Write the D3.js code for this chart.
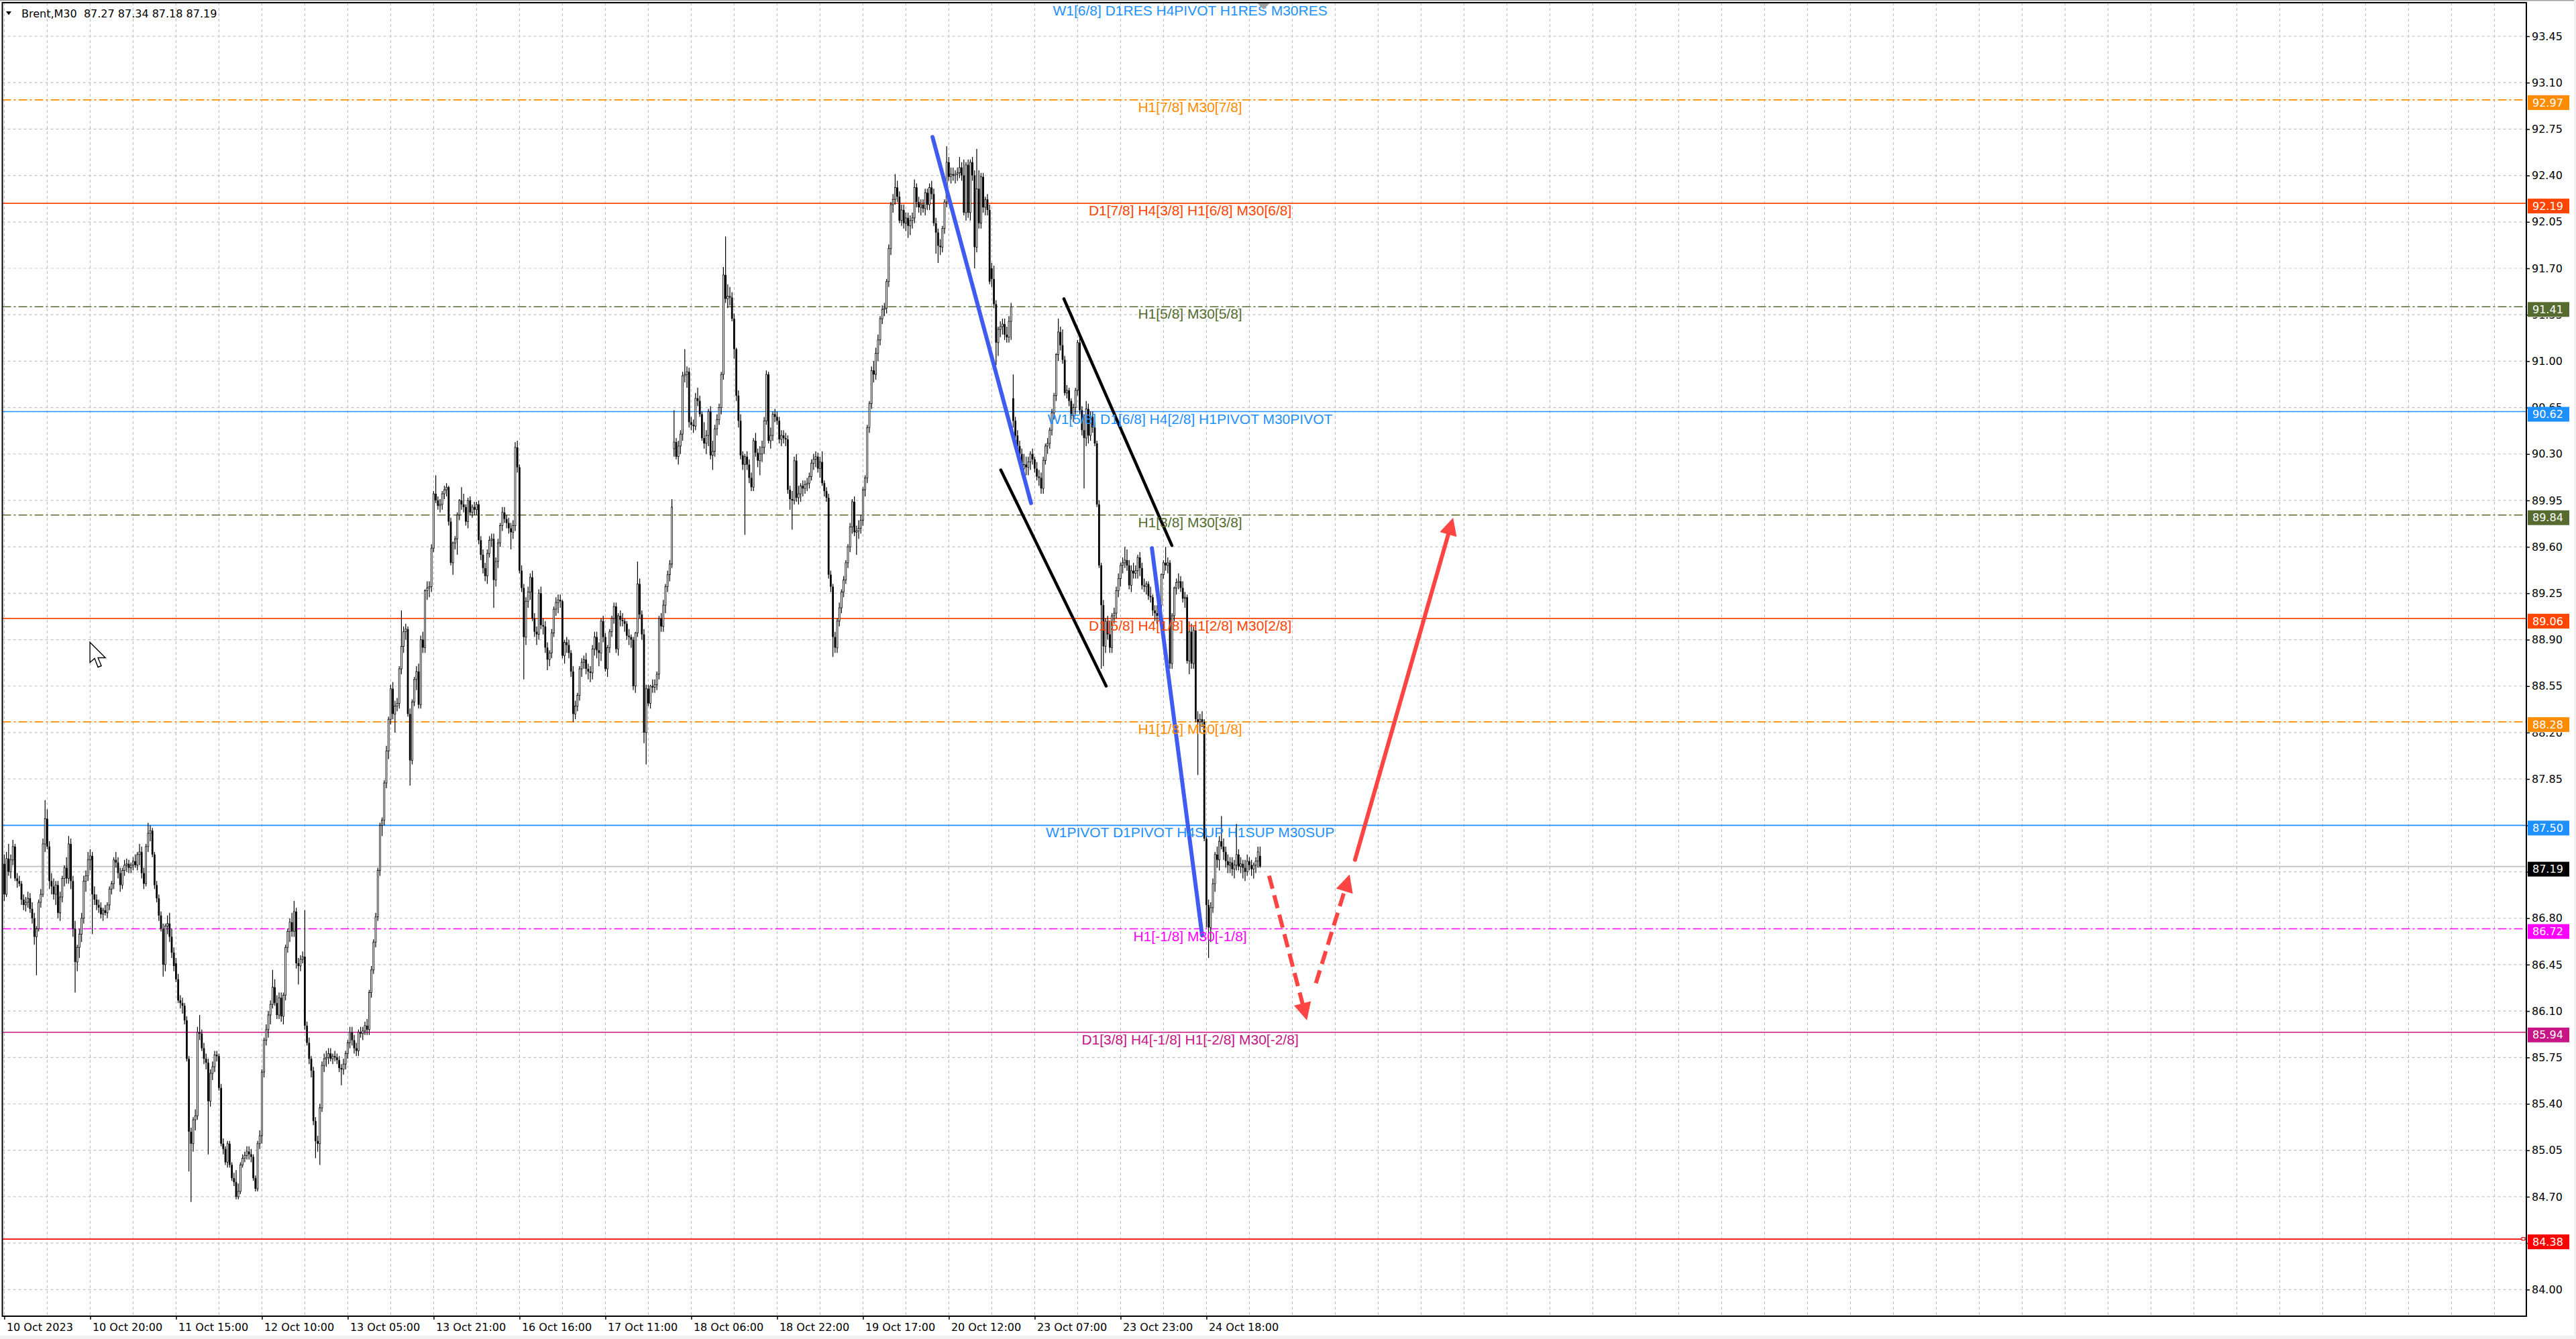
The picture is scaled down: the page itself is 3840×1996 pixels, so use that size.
<!DOCTYPE html>
<html>
<head>
<meta charset="utf-8">
<script src="https://cdn.jsdelivr.net/npm/d3@7"></script>
<style>
  html, body { margin: 0; padding: 0; background: #f0f0f0; }
  svg { display: block; }
  .axis text { font-family: "DejaVu Sans", Verdana, sans-serif; font-size: 16px; fill: #000; }
  .level-label { font-family: "Liberation Sans", Arial, sans-serif; font-size: 21px; }
  .price-box text { font-family: "DejaVu Sans", Verdana, sans-serif; font-size: 16px; fill: #fff; }
</style>
</head>
<body>
<svg id="chart"></svg>
<script>
// Brent, M30 - one tuple per bar: [open, high, low, close]
const candles = [
  // 10 Oct 2023
  [87.21,87.28,86.93,86.98],[86.98,87.30,86.96,87.25],[87.25,87.36,87.12,87.15],[87.15,87.28,87.10,87.24],[87.24,87.39,87.20,87.34],[87.34,87.36,87.08,87.10],[87.10,87.14,87.03,87.08],[87.08,87.12,87.04,87.06],[87.06,87.08,86.90,86.94],[86.94,86.98,86.86,86.90],
  [86.90,86.96,86.85,86.92],[86.92,87.00,86.88,86.95],[86.95,86.99,86.84,86.87],[86.87,86.92,86.76,86.80],[86.80,86.84,86.60,86.66],[86.66,86.74,86.37,86.72],[86.72,86.94,86.70,86.92],[86.92,87.02,86.88,86.98],[86.98,87.40,86.96,87.36],[87.36,87.69,87.30,87.55],
  [87.55,87.62,87.32,87.34],[87.34,87.38,87.02,87.08],[87.08,87.14,86.98,87.04],[87.04,87.10,86.94,86.98],[86.98,87.08,86.90,87.05],[87.05,87.08,86.80,86.84],[86.84,87.00,86.78,86.96],[86.96,87.12,86.92,87.10],[87.10,87.20,87.04,87.18],[87.18,87.26,87.06,87.10],
  [87.10,87.42,87.06,87.36],[87.36,87.40,87.02,87.08],[87.08,87.12,86.66,86.72],[86.72,86.78,86.24,86.47],[86.47,86.60,86.40,86.58],[86.58,86.72,86.50,86.68],[86.68,86.84,86.62,86.80],[86.80,87.12,86.76,87.08],[87.08,87.16,87.00,87.12],[87.12,87.30,87.08,87.24],
  // 10 Oct 20:00
  [87.24,87.32,87.16,87.27],[87.27,87.30,86.68,86.98],[86.98,87.04,86.90,86.94],[86.94,86.98,86.86,86.90],[86.90,86.94,86.84,86.88],[86.88,86.92,86.80,86.83],[86.83,86.88,86.78,86.86],[86.86,86.90,86.82,86.84],[86.84,86.92,86.80,86.90],[86.90,87.04,86.86,87.02],
  [87.02,87.08,86.98,87.06],[87.06,87.26,87.02,87.24],[87.24,87.30,87.18,87.22],[87.22,87.26,87.10,87.14],[87.14,87.18,87.00,87.05],[87.05,87.18,87.02,87.16],[87.16,87.24,87.12,87.20],[87.20,87.25,87.15,87.21],[87.21,87.24,87.14,87.18],[87.18,87.22,87.14,87.20],
  [87.20,87.26,87.16,87.23],[87.23,87.28,87.18,87.20],[87.20,87.30,87.16,87.28],[87.28,87.36,87.20,87.30],[87.30,87.34,87.10,87.14],[87.14,87.18,87.02,87.06],[87.06,87.36,87.04,87.34],[87.34,87.52,87.30,87.44],[87.44,87.50,87.38,87.46],[87.46,87.48,87.26,87.28],
  [87.28,87.30,87.02,87.05],[87.05,87.08,86.92,86.95],[86.95,86.98,86.78,86.82],[86.82,86.85,86.70,86.72],[86.72,86.76,86.36,86.45],[86.45,86.76,86.40,86.74],[86.74,86.82,86.68,86.76],[86.76,86.84,86.62,86.66],[86.66,86.72,86.50,86.54],[86.54,86.58,86.40,86.44],
  // 11 Oct 15:00
  [86.46,86.50,86.32,86.34],[86.34,86.38,86.16,86.18],[86.18,86.22,86.12,86.16],[86.16,86.20,86.08,86.14],[86.14,86.16,86.00,86.03],[86.03,86.06,85.72,85.74],[85.74,85.76,84.89,85.19],[85.19,85.22,84.66,85.10],[85.10,85.30,85.04,85.28],[85.28,85.36,85.20,85.31],
  [85.31,85.98,85.28,85.94],[85.94,86.07,85.88,85.93],[85.93,85.96,85.80,85.82],[85.82,85.86,85.70,85.74],[85.74,85.78,85.66,85.71],[85.71,85.74,85.02,85.42],[85.42,85.66,85.38,85.63],[85.63,85.72,85.58,85.68],[85.68,85.80,85.64,85.77],[85.77,85.80,85.72,85.76],
  [85.76,85.78,85.50,85.52],[85.52,85.55,85.08,85.10],[85.10,85.14,85.02,85.06],[85.06,85.08,84.94,84.96],[84.96,85.12,84.92,85.10],[85.10,85.12,84.92,84.94],[84.94,84.96,84.82,84.84],[84.84,84.88,84.78,84.81],[84.81,84.90,84.68,84.70],[84.70,84.80,84.68,84.74],
  [84.74,84.96,84.72,84.94],[84.94,85.02,84.92,84.99],[84.99,85.04,84.96,85.01],[85.01,85.08,84.98,85.04],[85.04,85.08,84.98,85.02],[85.02,85.06,84.96,85.00],[85.00,85.02,84.82,84.84],[84.84,84.86,84.74,84.76],[84.76,85.12,84.74,85.10],[85.10,85.20,85.06,85.16],
  // 12 Oct 10:00
  [85.16,85.66,85.10,85.64],[85.64,85.90,85.60,85.88],[85.88,86.00,85.84,85.96],[85.96,86.10,85.90,86.07],[86.07,86.18,86.00,86.15],[86.15,86.41,86.12,86.28],[86.28,86.34,86.14,86.16],[86.16,86.22,86.04,86.07],[86.07,86.24,86.04,86.20],[86.20,86.24,86.02,86.06],
  [86.06,86.24,86.00,86.22],[86.22,86.60,86.18,86.58],[86.58,86.72,86.54,86.70],[86.70,86.80,86.62,86.77],[86.77,86.84,86.66,86.70],[86.70,86.93,86.66,86.85],[86.85,86.88,86.42,86.46],[86.46,86.50,86.30,86.44],[86.44,86.52,86.40,86.49],[86.49,86.55,86.46,86.51],
  [86.51,86.86,85.96,85.99],[85.99,86.02,85.84,85.86],[85.86,85.90,85.70,85.74],[85.74,85.76,85.60,85.65],[85.65,85.68,85.24,85.27],[85.27,85.30,84.99,85.12],[85.12,85.16,85.04,85.10],[85.10,85.40,84.94,85.37],[85.37,85.72,85.34,85.69],[85.69,85.78,85.64,85.74],
  [85.74,85.80,85.68,85.75],[85.75,85.82,85.70,85.78],[85.78,85.82,85.72,85.74],[85.74,85.78,85.70,85.76],[85.76,85.80,85.72,85.75],[85.75,85.78,85.70,85.73],[85.73,85.76,85.64,85.67],[85.67,85.70,85.54,85.66],[85.66,85.74,85.62,85.70],[85.70,85.80,85.66,85.78],
  // 13 Oct 05:00
  [85.78,85.88,85.74,85.86],[85.86,85.98,85.82,85.94],[85.94,85.98,85.84,85.88],[85.88,85.92,85.78,85.82],[85.82,85.86,85.76,85.80],[85.80,85.96,85.76,85.94],[85.94,85.98,85.90,85.93],[85.93,85.98,85.88,85.95],[85.95,86.02,85.92,85.99],[85.99,86.04,85.92,85.96],
  [85.96,86.26,85.92,86.24],[86.24,86.44,86.20,86.41],[86.41,86.64,86.38,86.62],[86.62,86.84,86.58,86.81],[86.81,87.18,86.78,87.16],[87.16,87.52,87.12,87.50],[87.50,87.56,87.42,87.54],[87.54,87.84,87.50,87.82],[87.82,88.10,87.78,88.06],[88.06,88.32,88.00,88.30],
  [88.30,88.56,88.26,88.53],[88.53,88.58,88.30,88.34],[88.34,88.44,88.20,88.40],[88.40,88.46,88.36,88.42],[88.42,88.70,88.38,88.68],[88.68,89.12,88.64,88.85],[88.85,89.00,88.80,88.96],[88.96,89.02,88.90,88.98],[88.98,89.00,88.32,88.34],[88.34,88.38,87.80,87.99],
  [87.99,88.45,87.96,88.43],[88.43,88.62,88.40,88.60],[88.60,88.70,88.52,88.66],[88.66,88.72,88.38,88.41],[88.41,88.93,88.38,88.90],[88.90,88.96,88.80,88.84],[88.84,89.28,88.80,89.27],[89.27,89.34,89.20,89.29],[89.29,89.34,89.22,89.30],[89.30,89.62,89.26,89.59],
  // 13 Oct 21:00
  [89.59,90.02,89.56,90.00],[90.00,90.14,89.93,89.95],[89.95,89.98,89.88,89.91],[89.91,89.96,89.86,89.92],[89.92,90.02,89.88,90.00],[90.00,90.06,89.96,90.03],[90.03,90.08,89.98,90.05],[90.05,90.06,89.76,89.79],[89.79,89.82,89.46,89.48],[89.48,89.64,89.39,89.63],
  [89.63,89.68,89.58,89.66],[89.66,89.86,89.54,89.84],[89.84,89.96,89.80,89.95],[89.95,90.05,89.88,89.92],[89.92,90.00,89.86,89.90],[89.90,89.92,89.76,89.79],[89.79,89.97,89.74,89.95],[89.95,89.98,89.84,89.86],[89.86,89.92,89.82,89.90],[89.90,89.94,89.84,89.88],
  [89.88,89.94,89.84,89.92],[89.92,89.95,89.62,89.65],[89.65,89.68,89.50,89.54],[89.54,89.58,89.40,89.44],[89.44,89.48,89.34,89.38],[89.38,89.58,89.32,89.55],[89.55,89.68,89.52,89.65],[89.65,89.70,89.60,89.66],[89.66,89.70,89.14,89.35],[89.35,89.52,89.30,89.49],
  [89.49,89.66,89.44,89.63],[89.63,89.78,89.60,89.76],[89.76,89.90,89.72,89.86],[89.86,89.90,89.78,89.81],[89.81,89.84,89.74,89.78],[89.78,89.82,89.70,89.74],[89.74,89.78,89.58,89.71],[89.71,89.80,89.66,89.76],[89.76,90.39,89.72,90.35],[90.35,90.40,90.16,90.20],
  // 16 Oct 16:00
  [90.20,90.22,89.40,89.42],[89.42,89.46,89.26,89.29],[89.29,89.32,88.60,88.92],[88.92,89.22,88.86,89.19],[89.19,89.30,89.14,89.26],[89.26,89.40,89.20,89.37],[89.37,89.42,89.04,89.06],[89.06,89.10,88.92,88.96],[88.96,89.00,88.86,88.94],[88.94,89.28,88.90,89.25],
  [89.25,89.30,88.98,89.01],[89.01,89.06,88.94,89.00],[89.00,89.04,88.80,88.84],[88.84,88.88,88.67,88.75],[88.75,88.82,88.70,88.80],[88.80,88.98,88.76,88.95],[88.95,89.15,88.92,89.13],[89.13,89.22,89.08,89.18],[89.18,89.24,89.10,89.20],[89.20,89.24,89.14,89.19],
  [89.19,89.20,88.76,88.78],[88.78,88.90,88.72,88.88],[88.88,88.92,88.80,88.86],[88.86,88.90,88.76,88.80],[88.80,88.82,88.62,88.66],[88.66,88.70,88.28,88.34],[88.34,88.44,88.30,88.40],[88.40,88.50,88.36,88.48],[88.48,88.70,88.44,88.68],[88.68,88.76,88.62,88.73],
  [88.73,88.78,88.68,88.75],[88.75,88.80,88.64,88.68],[88.68,88.72,88.60,88.66],[88.66,88.70,88.58,88.65],[88.65,88.86,88.60,88.83],[88.83,88.96,88.78,88.92],[88.92,88.96,88.76,88.82],[88.82,88.88,88.70,88.80],[88.80,89.06,88.74,89.04],[89.04,89.08,88.88,88.92],
  // 17 Oct 11:00
  [88.92,88.95,88.66,88.68],[88.68,88.86,88.62,88.84],[88.84,88.98,88.80,88.96],[88.96,89.08,88.92,89.06],[89.06,89.18,89.02,89.15],[89.15,89.18,88.80,88.83],[88.83,89.10,88.78,89.08],[89.08,89.12,89.00,89.05],[89.05,89.10,89.00,89.04],[89.04,89.06,88.96,89.02],
  [89.02,89.04,88.90,88.93],[88.93,88.98,88.86,88.92],[88.92,88.94,88.84,88.90],[88.90,88.92,88.52,88.55],[88.55,88.96,88.50,88.95],[88.95,89.49,88.92,89.32],[89.32,89.36,89.06,89.09],[89.09,89.12,88.90,88.94],[88.94,88.98,88.12,88.20],[88.20,88.56,87.96,88.53],
  [88.53,88.56,88.40,88.42],[88.42,88.56,88.38,88.55],[88.55,88.60,88.50,88.54],[88.54,88.60,88.50,88.56],[88.56,88.66,88.52,88.64],[88.64,89.08,88.60,89.06],[89.06,89.10,88.96,89.00],[89.00,89.20,88.96,89.16],[89.16,89.32,89.10,89.30],[89.30,89.42,89.26,89.39],
  [89.39,89.50,89.34,89.47],[89.47,89.96,89.44,89.90],[90.34,90.63,90.28,90.39],[90.39,90.42,90.26,90.28],[90.28,90.40,90.22,90.36],[90.36,90.48,90.30,90.45],[90.45,90.92,90.40,90.89],[90.89,91.09,90.84,90.90],[90.90,90.96,90.80,90.92],[90.92,90.95,90.50,90.54],
  // 18 Oct 06:00
  [90.54,90.58,90.48,90.52],[90.52,90.56,90.46,90.51],[90.51,90.76,90.48,90.72],[90.72,90.80,90.66,90.70],[90.70,90.74,90.58,90.60],[90.60,90.62,90.40,90.42],[90.42,90.54,90.34,90.38],[90.38,90.48,90.30,90.44],[90.44,90.64,90.36,90.62],[90.62,90.66,90.26,90.29],
  [90.29,90.40,90.18,90.32],[90.32,90.52,90.28,90.49],[90.49,90.60,90.44,90.56],[90.56,90.68,90.52,90.65],[90.65,90.92,90.60,90.90],[90.90,91.71,90.86,91.65],[91.65,91.94,91.44,91.47],[91.47,91.58,91.40,91.49],[91.49,91.56,91.42,91.48],[91.48,91.52,91.30,91.32],
  [91.32,91.36,91.02,91.09],[91.09,91.10,90.70,90.74],[90.74,90.78,90.50,90.55],[90.55,90.60,90.26,90.29],[90.29,90.32,90.18,90.22],[90.22,90.30,89.69,90.28],[90.28,90.32,90.18,90.22],[90.22,90.26,90.08,90.12],[90.12,90.16,90.02,90.05],[90.05,90.42,90.02,90.40],
  [90.40,90.46,90.28,90.31],[90.31,90.34,90.20,90.25],[90.25,90.36,90.14,90.30],[90.30,90.40,90.24,90.35],[90.35,90.58,90.30,90.55],[90.55,90.93,90.52,90.90],[90.90,90.92,90.38,90.40],[90.40,90.50,90.34,90.44],[90.44,90.62,90.40,90.60],[90.60,90.64,90.54,90.58],
  // 18 Oct 22:00
  [90.58,90.62,90.52,90.55],[90.55,90.58,90.38,90.41],[90.41,90.48,90.36,90.44],[90.44,90.48,90.38,90.42],[90.42,90.46,90.36,90.41],[90.41,90.44,90.00,90.03],[90.03,90.06,89.88,89.96],[89.96,90.02,89.73,89.95],[89.95,90.28,89.92,90.25],[90.25,90.30,89.94,89.97],
  [89.97,90.06,89.92,90.00],[90.00,90.08,89.94,90.06],[90.06,90.10,89.98,90.04],[90.04,90.10,90.00,90.07],[90.07,90.12,90.02,90.08],[90.08,90.16,90.04,90.13],[90.13,90.26,90.10,90.23],[90.23,90.30,90.18,90.26],[90.26,90.32,90.20,90.28],[90.28,90.31,90.16,90.19],
  [90.19,90.28,90.12,90.24],[90.24,90.32,90.06,90.08],[90.08,90.10,89.98,90.02],[90.02,90.05,89.94,89.97],[89.97,90.00,89.36,89.39],[89.39,89.42,89.26,89.30],[89.30,89.32,88.77,88.92],[88.92,88.96,88.80,88.84],[88.84,89.06,88.80,89.04],[89.04,89.18,89.00,89.14],
  [89.14,89.28,89.10,89.26],[89.26,89.38,89.22,89.35],[89.35,89.50,89.32,89.48],[89.48,89.62,89.44,89.60],[89.60,89.78,89.56,89.75],[89.75,89.96,89.70,89.94],[89.94,89.98,89.68,89.71],[89.71,89.76,89.54,89.72],[89.72,89.80,89.66,89.74],[89.74,89.84,89.70,89.80],
  // 19 Oct 17:00
  [89.80,90.05,89.76,90.03],[90.03,90.14,89.98,90.12],[90.12,90.52,90.08,90.50],[90.50,90.70,90.46,90.68],[90.68,90.96,90.64,90.93],[90.93,91.00,90.84,90.90],[90.90,91.10,90.86,91.06],[91.06,91.20,91.00,91.16],[91.16,91.34,91.12,91.32],[91.32,91.42,91.28,91.39],
  [91.39,91.44,91.34,91.40],[91.40,91.62,91.36,91.60],[91.60,91.88,91.56,91.85],[91.85,92.20,91.80,92.18],[92.18,92.26,92.12,92.22],[92.22,92.41,92.18,92.31],[92.31,92.36,92.20,92.24],[92.24,92.28,92.04,92.06],[92.06,92.18,92.02,92.14],[92.14,92.18,92.00,92.04],
  [92.04,92.12,91.98,92.08],[92.08,92.12,91.93,92.02],[92.02,92.10,91.95,92.06],[92.06,92.12,92.00,92.08],[92.08,92.37,92.04,92.31],[92.31,92.34,92.16,92.20],[92.20,92.24,92.12,92.16],[92.16,92.22,92.10,92.18],[92.18,92.22,92.12,92.15],[92.15,92.30,92.10,92.27],
  [92.27,92.30,92.14,92.18],[92.18,92.34,92.14,92.31],[92.31,92.36,92.22,92.26],[92.26,92.30,92.02,92.04],[92.04,92.08,91.81,91.97],[91.97,92.00,91.74,91.87],[91.87,91.92,91.80,91.86],[91.86,92.02,91.82,92.00],[92.00,92.22,91.96,92.20],[92.20,92.62,92.16,92.50],
  // 20 Oct 12:00
  [92.50,92.54,92.36,92.39],[92.39,92.46,92.34,92.41],[92.41,92.46,92.36,92.40],[92.40,92.44,92.34,92.41],[92.41,92.46,92.36,92.42],[92.42,92.54,92.38,92.46],[92.46,92.50,92.36,92.40],[92.40,92.52,92.10,92.12],[92.12,92.50,92.06,92.48],[92.48,92.52,92.08,92.12],
  [92.12,92.52,92.06,92.50],[92.50,92.54,92.36,92.40],[92.40,92.44,91.70,91.86],[91.86,92.60,91.82,92.30],[92.30,92.44,92.00,92.04],[92.04,92.42,92.00,92.39],[92.39,92.42,92.12,92.16],[92.16,92.24,92.10,92.22],[92.22,92.26,92.10,92.14],[92.14,92.18,91.58,91.60],
  [91.70,91.74,91.56,91.62],[91.62,91.72,91.40,91.43],[91.43,91.46,90.97,91.14],[91.14,91.26,91.04,91.24],[91.24,91.30,91.18,91.26],[91.26,91.32,91.20,91.28],[91.28,91.32,91.16,91.20],[91.20,91.26,91.14,91.18],[91.18,91.34,91.14,91.30],[91.30,91.44,91.16,91.41],
  [90.72,90.90,90.50,90.55],[90.55,90.58,90.42,90.44],[90.44,90.48,90.32,90.36],[90.36,90.40,90.26,90.30],[90.30,90.34,90.14,90.19],[90.19,90.30,90.12,90.22],[90.22,90.28,90.14,90.20],[90.20,90.28,90.14,90.24],[90.24,90.32,90.18,90.30],[90.30,90.34,90.22,90.26],
  // 23 Oct 07:00
  [90.26,90.28,90.16,90.19],[90.19,90.24,90.10,90.13],[90.13,90.18,90.06,90.12],[90.12,90.16,90.00,90.04],[90.04,90.28,90.00,90.25],[90.25,90.38,90.22,90.36],[90.36,90.42,90.30,90.38],[90.38,90.50,90.34,90.48],[90.48,90.64,90.44,90.61],[90.61,90.76,90.56,90.74],
  [90.74,91.06,90.70,91.05],[91.05,91.32,91.00,91.22],[91.22,91.26,91.08,91.12],[91.12,91.24,90.98,91.01],[91.01,91.04,90.74,90.76],[90.76,90.82,90.72,90.78],[90.78,90.80,90.66,90.70],[90.70,90.72,90.56,90.59],[90.59,90.68,90.54,90.65],[90.65,90.80,90.60,90.78],
  [90.78,91.16,90.74,91.14],[91.14,91.18,90.60,90.63],[90.63,90.66,90.44,90.48],[90.48,90.60,90.04,90.42],[90.42,90.70,90.36,90.64],[90.64,90.68,90.38,90.44],[90.44,90.62,90.40,90.58],[90.58,90.62,90.46,90.50],[90.50,90.54,90.36,90.38],[90.38,90.40,89.90,89.92],
  [89.92,89.95,89.44,89.46],[89.46,89.48,88.68,89.16],[89.16,89.20,88.70,88.85],[88.85,89.06,88.80,89.04],[89.04,89.08,88.90,88.94],[88.94,89.04,88.80,88.84],[88.84,89.10,88.80,89.08],[89.08,89.14,89.02,89.10],[89.10,89.30,89.06,89.27],[89.27,89.40,89.22,89.36],
  // 23 Oct 23:00
  [89.36,89.48,89.30,89.46],[89.46,89.52,89.40,89.48],[89.48,89.60,89.44,89.50],[89.50,89.58,89.42,89.46],[89.46,89.50,89.28,89.31],[89.31,89.46,89.26,89.42],[89.42,89.48,89.36,89.40],[89.40,89.46,89.36,89.42],[89.42,89.54,89.36,89.52],[89.52,89.56,89.38,89.44],
  [89.44,89.48,89.28,89.31],[89.31,89.36,89.26,89.30],[89.30,89.34,89.24,89.32],[89.32,89.34,89.20,89.23],[89.23,89.30,89.18,89.22],[89.22,89.24,89.08,89.12],[89.12,89.16,89.04,89.10],[89.10,89.16,89.02,89.08],[89.08,89.20,89.04,89.16],[89.16,89.40,89.12,89.39],
  [89.39,89.50,89.36,89.48],[89.48,89.60,89.42,89.46],[89.46,89.52,89.40,89.48],[89.48,89.50,88.68,88.72],[88.72,89.10,88.68,89.08],[89.08,89.30,89.04,89.29],[89.29,89.36,89.24,89.33],[89.33,89.40,89.28,89.34],[89.34,89.38,89.26,89.29],[89.29,89.34,89.18,89.21],
  [89.21,89.26,89.14,89.22],[89.22,89.24,88.72,88.74],[88.74,88.98,88.64,88.96],[88.96,89.02,88.68,88.72],[88.72,89.00,88.68,88.97],[88.97,88.99,88.28,88.30],[88.30,88.36,87.88,88.28],[88.28,88.34,88.20,88.30],[88.30,88.36,88.24,88.28],[88.28,88.30,87.38,87.40],
  // 24 Oct 18:00
  [87.40,87.42,86.73,86.90],[86.90,86.94,86.50,86.73],[86.73,86.92,86.62,86.88],[86.88,87.10,86.84,87.06],[87.06,87.30,87.00,87.28],[87.28,87.34,87.18,87.24],[87.24,87.42,87.16,87.38],[87.38,87.57,87.32,87.34],[87.34,87.40,87.24,87.30],[87.30,87.34,87.18,87.23],
  [87.23,87.28,87.14,87.20],[87.20,87.26,87.14,87.22],[87.22,87.26,87.12,87.17],[87.17,87.24,87.10,87.20],[87.20,87.51,87.16,87.28],[87.28,87.32,87.16,87.19],[87.19,87.26,87.14,87.21],[87.21,87.24,87.10,87.18],[87.18,87.24,87.08,87.15],[87.15,87.28,87.12,87.23],
  [87.23,87.26,87.16,87.20],[87.20,87.24,87.12,87.17],[87.17,87.22,87.10,87.20],[87.20,87.26,87.14,87.23],[87.23,87.34,87.18,87.30],[87.27,87.34,87.18,87.19]
];

const symbolName = 'Brent,M30';

// time axis: a label every 40 bars
const timeLabelBars = [0, 40, 80, 120, 160, 200, 240, 280, 320, 360, 400, 440, 480, 520, 560];
const timeLabels = ['10 Oct 2023', '10 Oct 20:00', '11 Oct 15:00', '12 Oct 10:00', '13 Oct 05:00',
  '13 Oct 21:00', '16 Oct 16:00', '17 Oct 11:00', '18 Oct 06:00', '18 Oct 22:00',
  '19 Oct 17:00', '20 Oct 12:00', '23 Oct 07:00', '23 Oct 23:00', '24 Oct 18:00'];

const priceTicks = [84.00, 84.35, 84.70, 85.05, 85.40, 85.75, 86.10, 86.45, 86.80, 87.15,
  87.50, 87.85, 88.20, 88.55, 88.90, 89.25, 89.60, 89.95, 90.30, 90.65,
  91.00, 91.35, 91.70, 92.05, 92.40, 92.75, 93.10, 93.45];

// Murrey / pivot levels
const levelPrices = [93.74, 92.97, 92.19, 91.41, 90.62, 89.84, 89.06, 88.28, 87.50, 86.72, 85.94, 84.38];
const levelColors = ['#1e90ff', '#ff8c00', '#ff4500', '#556b2f', '#1e90ff', '#556b2f', '#ff4500', '#ff8c00', '#1e90ff', '#ff00ff', '#c71585', '#ff0000'];
const levelDashed = [false, true, false, true, false, true, false, true, false, true, false, false];
const levelTexts = [
  'W1[6/8] D1RES H4PIVOT H1RES M30RES',
  'H1[7/8] M30[7/8]',
  'D1[7/8] H4[3/8] H1[6/8] M30[6/8]',
  'H1[5/8] M30[5/8]',
  'W1[5/8] D1[6/8] H4[2/8] H1PIVOT M30PIVOT',
  'H1[3/8] M30[3/8]',
  'D1[5/8] H4[1/8] H1[2/8] M30[2/8]',
  'H1[1/8] M30[1/8]',
  'W1PIVOT D1PIVOT H4SUP H1SUP M30SUP',
  'H1[-1/8] M30[-1/8]',
  'D1[3/8] H4[-1/8] H1[-2/8] M30[-2/8]',
  ''
];
const levelLabelBar = 552.4;

// hand drawn analysis lines, as [bar, price]
const trendLines = [
  {a: [432.4, 92.69], b: [478.3, 89.93], kind: 'blue'},
  {a: [534.6, 89.59], b: [558.0, 86.67], kind: 'blue'},
  {a: [464.2, 90.18], b: [513.3, 88.55], kind: 'black'},
  {a: [493.6, 91.47], b: [543.9, 89.61], kind: 'black'},
  {a: [589.2, 87.12], b: [606.8, 86.03], kind: 'redDash'},
  {a: [611.0, 86.31], b: [626.7, 87.13], kind: 'redDash'},
  {a: [629.2, 87.24], b: [674.9, 89.82], kind: 'red'}
];

const cursorAt = [39.9, 88.88];

const lineStyle = {
  blue:    {color: '#3f5bf0', width: 6, dash: null, arrow: false},
  black:   {color: '#000000', width: 4.5, dash: null, arrow: false},
  redDash: {color: '#ff4444', width: 6, dash: '20,10', arrow: true},
  red:     {color: '#ff4444', width: 6, dash: null, arrow: true}
};

const W = 3840, H = 1996;
const plot = {left: 3.5, top: 4, right: 3766, bottom: 1962};

const svg = d3.select('#chart').attr('width', W).attr('height', H);

svg.append('rect').attr('width', 3837).attr('height', 1991).attr('fill', '#fff');
svg.append('line').attr('x1', 0).attr('x2', 3837).attr('y1', 0.8).attr('y2', 0.8)
  .attr('stroke', '#a0a0a0').attr('stroke-width', 1.6);

const x = d3.scaleLinear().domain([0, 1175]).range([6.4, 3766.4]);
const y = d3.scaleLinear().domain([84.00, 93.45]).range([1922.3, 54]);

const defs = svg.append('defs');
defs.append('clipPath').attr('id', 'plotClip')
  .append('rect')
  .attr('x', plot.left).attr('y', plot.top)
  .attr('width', plot.right - plot.left).attr('height', plot.bottom - plot.top);

const plotG = svg.append('g').attr('clip-path', 'url(#plotClip)');

// grid
plotG.append('g').selectAll('line')
  .data(d3.range(0, 1175, 20))
  .join('line')
  .attr('x1', d => x(d)).attr('x2', d => x(d))
  .attr('y1', plot.top).attr('y2', plot.bottom)
  .attr('stroke', '#c0c0c0').attr('stroke-width', 1.2).attr('stroke-dasharray', '4,4');

plotG.append('g').selectAll('line')
  .data(priceTicks)
  .join('line')
  .attr('x1', plot.left).attr('x2', plot.right)
  .attr('y1', d => y(d)).attr('y2', d => y(d))
  .attr('stroke', '#c0c0c0').attr('stroke-width', 1.2).attr('stroke-dasharray', '4,4');

// levels
const levels = levelPrices.map((p, i) => ({
  price: p, color: levelColors[i], dashed: levelDashed[i], text: levelTexts[i]
}));

plotG.append('g').selectAll('line')
  .data(levels)
  .join('line')
  .attr('x1', plot.left).attr('x2', plot.right)
  .attr('y1', d => y(d.price)).attr('y2', d => y(d.price))
  .attr('stroke', d => d.color)
  .attr('stroke-width', 1.6)
  .attr('stroke-dasharray', d => d.dashed ? '13,4,3,4' : null);

// current price line
const last = candles[candles.length - 1];
plotG.append('line')
  .attr('x1', plot.left).attr('x2', plot.right)
  .attr('y1', y(last[3])).attr('y2', y(last[3]))
  .attr('stroke', '#c0c0c0').attr('stroke-width', 1.6);

// level captions sit just under their line (kept inside the frame)
svg.append('g').selectAll('text')
  .data(levels.filter(d => d.text))
  .join('text')
  .attr('class', 'level-label')
  .attr('x', x(levelLabelBar))
  .attr('y', d => Math.max(y(d.price) + 18, plot.top + 19))
  .attr('text-anchor', 'middle')
  .attr('fill', d => d.color)
  .text(d => d.text);

// candles
const bars = plotG.append('g').selectAll('g')
  .data(candles)
  .join('g');

bars.append('line')
  .attr('x1', (d, i) => x(i)).attr('x2', (d, i) => x(i))
  .attr('y1', d => y(d[1])).attr('y2', d => y(d[2]))
  .attr('stroke', '#000').attr('stroke-width', 1.2);

bars.append('rect')
  .attr('x', (d, i) => x(i) - (d[3] >= d[0] ? 1.0 : 1.4))
  .attr('width', d => d[3] >= d[0] ? 2.0 : 2.8)
  .attr('y', d => y(Math.max(d[0], d[3])))
  .attr('height', d => Math.max(1, Math.abs(y(d[0]) - y(d[3]))))
  .attr('fill', d => d[3] >= d[0] ? '#fff' : '#000')
  .attr('stroke', d => d[3] >= d[0] ? '#000' : 'none')
  .attr('stroke-width', 0.8);

// analysis lines
const tl = plotG.append('g');
trendLines.forEach(t => {
  const s = lineStyle[t.kind];
  const x1 = x(t.a[0]), y1 = y(t.a[1]);
  let x2 = x(t.b[0]), y2 = y(t.b[1]);
  const ang = Math.atan2(y2 - y1, x2 - x1);
  if (s.arrow) {
    const len = 26, half = 13;
    const bx = x2 - len * Math.cos(ang), by = y2 - len * Math.sin(ang);
    tl.append('path')
      .attr('d', `M${x2},${y2}L${bx + half * Math.sin(ang)},${by - half * Math.cos(ang)}L${bx - half * Math.sin(ang)},${by + half * Math.cos(ang)}Z`)
      .attr('fill', s.color);
    x2 = bx + 2 * Math.cos(ang);
    y2 = by + 2 * Math.sin(ang);
  }
  tl.append('line')
    .attr('x1', x1).attr('y1', y1).attr('x2', x2).attr('y2', y2)
    .attr('stroke', s.color)
    .attr('stroke-width', s.width)
    .attr('stroke-linecap', s.dash ? 'butt' : 'round')
    .attr('stroke-dasharray', s.dash);
});

// mouse cursor left on the chart
plotG.append('path')
  .attr('transform', `translate(${x(cursorAt[0])},${y(cursorAt[1])})`)
  .attr('d', 'M0,0L0,30L7,24L12,37L17,35L12,23L23,23Z')
  .attr('fill', '#fff').attr('stroke', '#000').attr('stroke-width', 1.4);

// chart shift marker
svg.append('path')
  .attr('d', `M${x(583.5)},${plot.top}l20,0l-10,10Z`)
  .attr('fill', '#a0a0a0');

// frame
svg.append('rect')
  .attr('x', plot.left).attr('y', plot.top)
  .attr('width', plot.right - plot.left).attr('height', plot.bottom - plot.top)
  .attr('fill', 'none').attr('stroke', '#000').attr('stroke-width', 2);

// axes
const yAxis = d3.axisRight(y).tickValues(priceTicks).tickFormat(d3.format('.2f')).tickSize(5).tickPadding(3);
const yAxisG = svg.append('g').attr('class', 'axis')
  .attr('transform', `translate(${plot.right},0)`)
  .call(yAxis);
yAxisG.select('.domain').remove();
yAxisG.selectAll('.tick line').attr('stroke', '#000').attr('stroke-width', 1.5);

const xAxis = d3.axisBottom(x).tickValues(timeLabelBars)
  .tickFormat((d, i) => timeLabels[i]).tickSize(5).tickPadding(6);
const xAxisG = svg.append('g').attr('class', 'axis')
  .attr('transform', `translate(0,${plot.bottom})`)
  .call(xAxis);
xAxisG.select('.domain').remove();
xAxisG.selectAll('.tick line').attr('stroke', '#000').attr('stroke-width', 1.5);
xAxisG.selectAll('.tick text').attr('text-anchor', 'start').attr('x', 3);

// price boxes on the right scale
const boxTop = -7, boxH = 22;
const boxes = levels.filter(d => d.price >= 84.00 && d.price <= 93.45)
  .concat([{price: last[3], color: '#000'}]);

// a scale label under a price box only shows the part the box leaves free
yAxisG.selectAll('.tick text').each(function(d, i) {
  const ty = y(d);
  const hit = boxes.find(b => Math.abs(y(b.price) + boxTop + boxH / 2 - ty) < boxH / 2 + 8);
  if (!hit) return;
  const top = y(hit.price) - ty + boxTop;
  const id = 'tickClip' + i;
  const cp = defs.append('clipPath').attr('id', id);
  cp.append('rect').attr('x', 0).attr('y', -40).attr('width', 80).attr('height', Math.max(0, top + 40));
  cp.append('rect').attr('x', 0).attr('y', top + boxH).attr('width', 80).attr('height', 40);
  d3.select(this).attr('clip-path', `url(#${id})`);
});

const boxG = svg.append('g').attr('class', 'price-box').selectAll('g')
  .data(boxes)
  .join('g')
  .attr('transform', d => `translate(${plot.right + 2},${y(d.price)})`);
boxG.append('rect')
  .attr('x', 0).attr('y', boxTop).attr('width', 62).attr('height', boxH)
  .attr('fill', d => d.color);
boxG.append('text')
  .attr('x', 7).attr('y', 4).attr('dy', '0.35em')
  .text(d => d3.format('.2f')(d.price));

// small marker on the lowest level
svg.append('rect')
  .attr('x', plot.right - 7).attr('y', y(84.38) - 2.5).attr('width', 5).attr('height', 4)
  .attr('fill', '#fff').attr('stroke', '#ff0000').attr('stroke-width', 1.2);

// header
svg.append('path').attr('d', 'M9,17L17,17L13,22.5Z').attr('fill', '#000');
svg.append('text')
  .attr('x', 32).attr('y', 26)
  .style('font-family', '"DejaVu Sans", Verdana, sans-serif')
  .style('font-size', '16px')
  .text(symbolName + '\u00a0\u00a0' + last.map(v => v.toFixed(2)).join(' '));
</script>
</body>
</html>
